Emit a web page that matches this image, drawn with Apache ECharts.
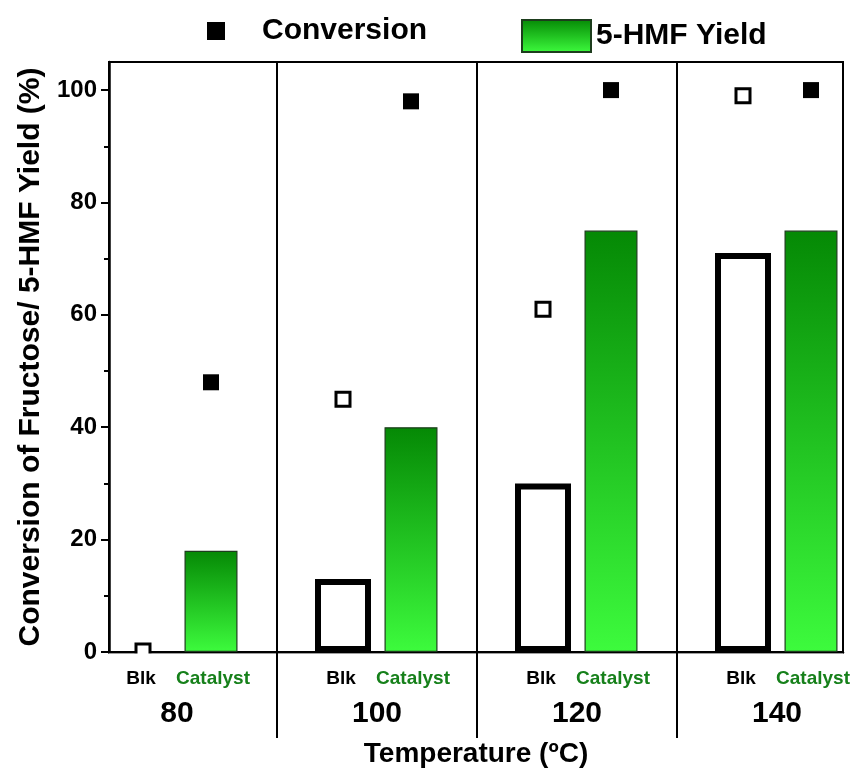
<!DOCTYPE html>
<html>
<head>
<meta charset="utf-8">
<script src="https://cdn.jsdelivr.net/npm/echarts@6/dist/echarts.min.js"></script>
<style>
html, body { margin: 0; padding: 0; background: #fff; }
#chart { width: 852px; height: 769px; }
</style>
</head>
<body>
<div id="chart"></div>
<script>
// 温度分组与数据
const temps = [80, 100, 120, 140];
const blkYield = [0, 13, 30, 71];
const catYield = [18, 40, 75, 75];
const blkConv = [0.2, 45, 61, 99];
const catConv = [48, 98, 100, 100];
const yTicks = [0, 20, 40, 60, 80, 100];
const subLabels = ['Blk', 'Catalyst'];

const OFF = 3.4;      // 组中心到每根柱子的距离（单位：℃）
const FONT = '"Liberation Sans", Arial, sans-serif';

let chart = echarts.init(document.getElementById('chart'));

const green = new echarts.graphic.LinearGradient(0, 0, 0, 1, [
    {offset: 0, color: '#058905'},
    {offset: 1, color: '#3dfb3d'}
]);

const xBase = {
    type: 'value',
    min: temps[0] - 6.8,
    max: temps[temps.length - 1] + 6.6,
    axisLine: {show: true, lineStyle: {color: '#000', width: 2.5}},
    axisTick: {show: false},
    axisLabel: {show: false},
    splitLine: {show: false}
};

let option = {
    animation: false,
    backgroundColor: '#fff',
    textStyle: {fontFamily: FONT},
    grid: {
        left: 109, right: 9, top: 62, bottom: 117,
        outerBoundsMode: 'none',
        show: true, borderColor: '#000', borderWidth: 2
    },
    legend: [
        {
            data: [{name: 'Conversion', icon: 'rect'}],
            left: 207, top: 16, padding: 0,
            itemWidth: 18, itemHeight: 18,
            textStyle: {fontSize: 30, fontWeight: 'bold', fontFamily: FONT, color: '#000', padding: [0, 0, 0, 32]}
        },
        {
            data: [{name: '5-HMF Yield', icon: 'rect'}],
            left: 521, top: 19, padding: 0,
            itemWidth: 69, itemHeight: 32,
            textStyle: {fontSize: 30, fontWeight: 'bold', fontFamily: FONT, color: '#000'}
        }
    ],
    xAxis: [
        Object.assign({}, xBase, {
            name: 'Temperature (ºC)',
            nameLocation: 'middle',
            nameGap: 88,
            nameTextStyle: {fontSize: 28, fontWeight: 'bold', color: '#000', fontFamily: FONT}
        }),
        Object.assign({}, xBase, {show: false})
    ],
    yAxis: {
        type: 'value',
        min: 0,
        max: 105,
        interval: 20,
        name: 'Conversion of Fructose/ 5-HMF Yield (%)',
        nameLocation: 'middle',
        nameGap: 62,
        nameTextStyle: {fontSize: 30, fontWeight: 'bold', color: '#000', fontFamily: FONT},
        axisLine: {show: true, lineStyle: {color: '#000', width: 2.5}},
        axisTick: {show: true, inside: false, length: 8, lineStyle: {color: '#000', width: 2}, customValues: yTicks},
        minorTick: {show: true, splitNumber: 2, length: 5, lineStyle: {color: '#000', width: 2}},
        axisLabel: {
            customValues: yTicks,
            fontSize: 24, fontWeight: 'bold', color: '#000', margin: 12, fontFamily: FONT
        },
        splitLine: {show: false}
    },
    series: [
        {
            name: 'Blk Yield',
            type: 'bar',
            xAxisIndex: 0,
            barWidth: 56,
            itemStyle: {color: '#fff', borderColor: '#000', borderWidth: 6},
            data: temps.map((t, i) => [t - OFF, blkYield[i] === 0 ? '-' : blkYield[i]])
        },
        {
            name: '5-HMF Yield',
            type: 'bar',
            xAxisIndex: 1,
            barWidth: 53,
            itemStyle: {color: green, borderColor: '#1d3d1d', borderWidth: 1.2},
            data: temps.map((t, i) => [t + OFF, catYield[i]])
        },
        {
            name: 'Blk Conversion',
            type: 'scatter',
            symbol: 'rect',
            symbolSize: 14,
            itemStyle: {color: '#fff', borderColor: '#000', borderWidth: 3, opacity: 1},
            data: temps.map((t, i) => [t - OFF, blkConv[i]]),
            z: 5
        },
        {
            name: 'Conversion',
            type: 'scatter',
            symbol: 'rect',
            symbolSize: 16,
            itemStyle: {color: '#000', opacity: 1},
            data: temps.map((t, i) => [t + OFF, catConv[i]]),
            z: 5
        }
    ]
};

chart.setOption(option);

// 分组分隔线与下方标签，位置由坐标轴换算得到
const topY = chart.convertToPixel({yAxisIndex: 0}, 105);
const baseY = chart.convertToPixel({yAxisIndex: 0}, 0);
const leftX = chart.convertToPixel({xAxisIndex: 0}, xBase.min);
const rightX = chart.convertToPixel({xAxisIndex: 0}, xBase.max);
let graphics = [
    // 绘图区下方遮挡溢出的标记（模拟裁剪）
    {type: 'rect', z: 100, shape: {x: leftX, y: baseY + 1.5, width: rightX - leftX, height: 12}, style: {fill: '#fff'}}
];
for (let i = 0; i < temps.length; i++) {
    const cx = chart.convertToPixel({xAxisIndex: 0}, temps[i]);
    const bx = chart.convertToPixel({xAxisIndex: 0}, temps[i] - OFF - 0.2);
    const kx = chart.convertToPixel({xAxisIndex: 0}, temps[i] + OFF + 0.2);
    if (i < temps.length - 1) {
        const dx = chart.convertToPixel({xAxisIndex: 0}, temps[i] + 10);
        graphics.push({
            type: 'line', z: 101,
            shape: {x1: dx, y1: topY, x2: dx, y2: baseY + 86},
            style: {stroke: '#000', lineWidth: 2}
        });
    }
    graphics.push({
        type: 'text', x: bx, y: baseY + 27,
        style: {text: subLabels[0], fill: '#000', font: 'bold 19px ' + FONT, textAlign: 'center', textVerticalAlign: 'middle'}
    });
    graphics.push({
        type: 'text', x: kx, y: baseY + 27,
        style: {text: subLabels[1], fill: '#16801a', font: 'bold 19px ' + FONT, textAlign: 'center', textVerticalAlign: 'middle'}
    });
    graphics.push({
        type: 'text', x: cx, y: baseY + 62,
        style: {text: String(temps[i]), fill: '#000', font: 'bold 30px ' + FONT, textAlign: 'center', textVerticalAlign: 'middle'}
    });
}
chart.setOption({graphic: graphics});
</script>
</body>
</html>
